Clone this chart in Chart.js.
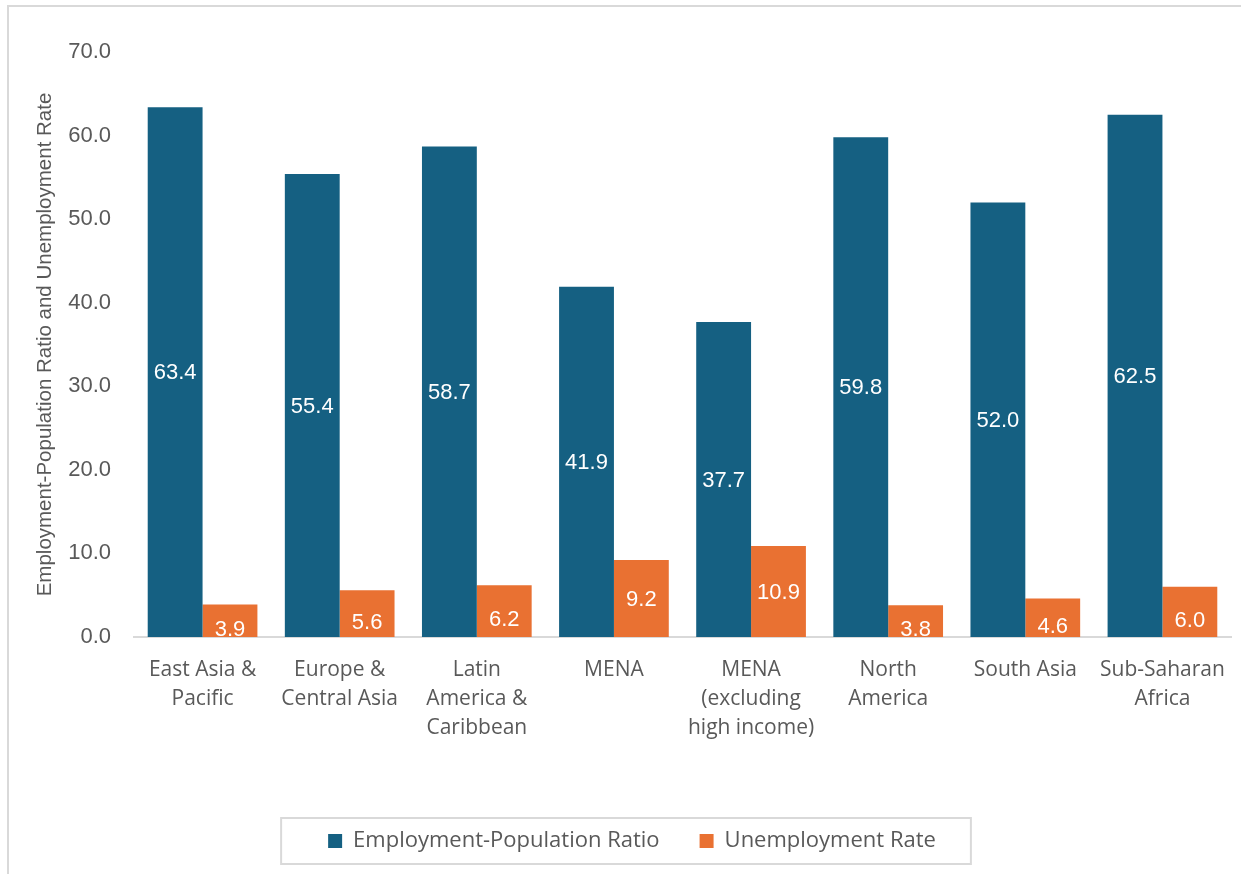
<!DOCTYPE html>
<html>
<head>
<meta charset="utf-8">
<title>Employment-Population Ratio and Unemployment Rate by Region</title>
<script src="https://cdn.jsdelivr.net/npm/chart.js@4.4.1/dist/chart.umd.min.js"></script>
<style>
  html, body { margin: 0; padding: 0; background: #ffffff; }
  #wrap { position: relative; width: 1241px; height: 874px; overflow: hidden; }
  #frame {
    position: absolute; left: 7px; top: 5px; width: 1400px; height: 1000px;
    border-left: 2px solid #d9d9d9; border-top: 2px solid #d9d9d9; box-sizing: border-box;
  }
  #c { position: absolute; left: 0; top: 0; }
</style>
</head>
<body>
<div id="wrap">
  <div id="frame"></div>
  <canvas id="c" width="1241" height="874"></canvas>
</div>
<script>
// Regions (multi-line category labels)
const regions = [
  ["East Asia &", "Pacific"],
  ["Europe &", "Central Asia"],
  ["Latin", "America &", "Caribbean"],
  ["MENA"],
  ["MENA", "(excluding", "high income)"],
  ["North", "America"],
  ["South Asia"],
  ["Sub-Saharan", "Africa"]
];

// Series values (%)
const employmentPopulationRatio = [63.4, 55.4, 58.7, 41.9, 37.7, 59.8, 52.0, 62.5];
const unemploymentRate = [3.9, 5.6, 6.2, 9.2, 10.9, 3.8, 4.6, 6.0];

// Value axis range
const yMin = 0;
const yMax = 70;
const yStep = 10;

const textGray = '#595959';
const lineGray = '#d9d9d9';
const blue = '#156082';
const orange = '#E97132';
const arialStack = '"Liberation Sans", Arial, sans-serif';
const labelStack = '"Open Sans", "Noto Sans", sans-serif';

// Value labels drawn in the middle of each bar (short bars get their label nudged toward the base)
const barValueLabels = {
  id: 'barValueLabels',
  afterDatasetsDraw(chart) {
    const ctx = chart.ctx;
    const area = chart.chartArea;
    ctx.save();
    ctx.beginPath();
    ctx.rect(area.left, area.top, area.right - area.left, area.bottom - area.top);
    ctx.clip();
    ctx.font = '22px ' + arialStack;
    ctx.fillStyle = '#ffffff';
    ctx.textAlign = 'center';
    ctx.textBaseline = 'middle';
    chart.data.datasets.forEach((ds, i) => {
      chart.getDatasetMeta(i).data.forEach((bar, j) => {
        const half = Math.abs(bar.base - bar.y) / 2;
        let cy = (bar.y + bar.base) / 2;
        if (half < 30) cy += 8;
        ctx.fillText(Number(ds.data[j]).toFixed(1), bar.x, cy + 1);
      });
    });
    ctx.restore();
  }
};

// Thin frame around the legend items
const legendFrame = {
  id: 'legendFrame',
  afterDraw(chart) {
    const lg = chart.legend;
    if (!lg || !lg.legendHitBoxes || !lg.legendHitBoxes.length) return;
    const boxes = lg.legendHitBoxes;
    let l = Infinity, r = -Infinity, cy = 0;
    boxes.forEach(b => {
      l = Math.min(l, b.left);
      r = Math.max(r, b.left + b.width);
      cy = b.top + b.height / 2;
    });
    const ctx = chart.ctx;
    ctx.save();
    ctx.strokeStyle = lineGray;
    ctx.lineWidth = 2;
    const padL = 47, padR = 35, h = 46;
    ctx.strokeRect(l - padL, cy - h / 2, (r - l) + padL + padR, h);
    ctx.restore();
  }
};

new Chart(document.getElementById('c'), {
  type: 'bar',
  data: {
    labels: regions,
    datasets: [
      {
        label: 'Employment-Population Ratio',
        data: employmentPopulationRatio,
        backgroundColor: blue,
        borderWidth: 0
      },
      {
        label: 'Unemployment Rate',
        data: unemploymentRate,
        backgroundColor: orange,
        borderWidth: 0
      }
    ]
  },
  options: {
    responsive: false,
    devicePixelRatio: 1,
    animation: false,
    categoryPercentage: 0.8,
    barPercentage: 1.0,
    layout: { padding: { left: 33, right: 10, top: 52, bottom: 12 } },
    plugins: {
      tooltip: { enabled: false },
      legend: {
        position: 'bottom',
        labels: {
          color: textGray,
          font: { family: labelStack, size: 22 },
          boxWidth: 14,
          boxHeight: 14,
          padding: 40,
          useBorderRadius: false
        }
      }
    },
    scales: {
      x: {
        grid: { display: false, drawTicks: false },
        border: { display: true, color: lineGray, width: 2 },
        ticks: {
          color: textGray,
          font: { family: labelStack, size: 21, lineHeight: 1.38 },
          padding: 19,
          maxRotation: 0,
          minRotation: 0,
          autoSkip: false
        },
        afterFit(scale) {
          scale.height = 153;
          scale.paddingLeft = 0;
          scale.paddingRight = 0;
        }
      },
      y: {
        min: yMin,
        max: yMax,
        grid: { display: false, drawTicks: false },
        border: { display: false },
        ticks: {
          stepSize: yStep,
          color: textGray,
          font: { family: arialStack, size: 22 },
          padding: 23,
          callback: v => Number(v).toFixed(1)
        },
        title: {
          display: true,
          text: 'Employment-Population Ratio and Unemployment Rate',
          color: textGray,
          font: { family: arialStack, size: 20.5 },
          padding: 0
        },
        afterFit(scale) { scale.width = 101; }
      }
    }
  },
  plugins: [barValueLabels, legendFrame]
});
</script>
</body>
</html>
